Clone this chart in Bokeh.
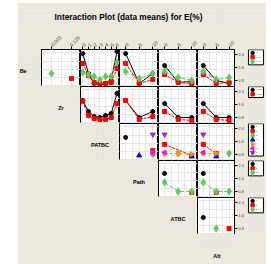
import math
from bokeh.plotting import figure
from bokeh.models import (Range1d, LinearAxis, FixedTicker, Label, Spacer,
                          ColumnDataSource, Row, Column)
from bokeh.core.properties import value
from bokeh.embed import file_html
from bokeh.resources import INLINE

# ---------------- data ----------------
TITLE = "Interaction Plot (data means) for E(%)"
ROW_FACTORS = ["Be", "Zr", "PATBC", "Path", "ATBC"]
COL_FACTORS = ["Zr", "PATBC", "Path", "ATBC", "Alt"]
BOTTOM_FACTOR = "Alt"

BE_LEVELS = ["0", "0.05", "0.10"]
ZR_LEVELS = ["0.003", "0.125"]
PATBC_LEVELS = ["0", "1", "2", "3", "4", "5", "6"]
PATH_LEVELS = ["0", "5", "10"]
ATBC_LEVELS = ["0", "5", "10"]
ALT_LEVELS = ["0", "5", "10"]

Y_TICKS = [0.8, 1.6, 2.4]

N = None
# rows: levels of the row factor; entries: levels of the column factor
BE_ZR = [[N, N], [N, 0.92], [1.23, N]]
BE_PATBC = [[2.46, 1.23, 0.62, 0.55, 0.62, 0.80, 2.58],
            [1.85, 1.10, 0.68, 0.62, 0.62, 0.68, 1.54],
            [1.29, 1.17, 1.05, 0.86, 1.05, 1.05, 1.91]]
BE_PATH = [[2.46, 0.62, 1.23], [1.85, 0.62, 0.86], [1.35, 0.92, 1.23]]
BE_ATBC = [[1.72, 0.68, 0.74], [1.17, 0.68, 0.62], [1.35, 0.98, 0.80]]
BE_ALT = [[1.72, 0.80, 0.62], [1.17, 0.62, 0.68], [1.35, 0.86, 0.98]]

ZR_PATBC = [[1.85, 1.17, 0.86, 0.80, 0.92, 1.05, 2.28],
            [1.80, 0.92, 0.74, 0.68, 0.68, 0.80, 1.66]]
ZR_PATH = [[1.85, 0.80, 1.17], [1.85, 0.68, 0.86]]
ZR_ATBC = [[1.66, 0.80, 0.80], [1.17, 0.68, 0.62]]
ZR_ALT = [[1.66, 0.80, 0.80], [1.17, 0.68, 0.62]]

PATBC_PATH = [[1.85, N, N], [N, N, 1.05], [N, N, 0.82], [N, 0.74, N],
              [N, N, 0.86], [N, N, 0.88], [N, N, 2.03]]
PATBC_ATBC = [[N, N, N], [1.42, N, 0.74], [N, 0.86, N], [N, N, 0.68],
              [0.86, 0.86, 0.82], [0.92, N, N], [2.03, N, N]]
PATBC_ALT = [[N, N, N], [1.42, 0.86, N], [N, N, 0.86], [N, 0.68, N],
             [0.86, 0.86, N], [0.92, N, N], [2.03, N, N]]

PATH_ATBC = [[1.91, N, N], [N, N, 0.74], [1.35, 0.80, 0.80]]
PATH_ALT = [[1.91, N, N], [N, 0.74, N], [1.35, 0.80, 0.80]]

ATBC_ALT = [[1.48, N, N], [N, N, 0.80], [N, 0.80, N]]

LEVELS = {"Be": BE_LEVELS, "Zr": ZR_LEVELS, "PATBC": PATBC_LEVELS,
          "Path": PATH_LEVELS, "ATBC": ATBC_LEVELS, "Alt": ALT_LEVELS}
DATA = {(0, 0): BE_ZR, (0, 1): BE_PATBC, (0, 2): BE_PATH, (0, 3): BE_ATBC, (0, 4): BE_ALT,
        (1, 1): ZR_PATBC, (1, 2): ZR_PATH, (1, 3): ZR_ATBC, (1, 4): ZR_ALT,
        (2, 2): PATBC_PATH, (2, 3): PATBC_ATBC, (2, 4): PATBC_ALT,
        (3, 3): PATH_ATBC, (3, 4): PATH_ALT,
        (4, 4): ATBC_ALT}

# ---------------- style ----------------
BEIGE = "#ECE8DC"
COLORS = ["black", "#FF0000", "#5EC95E", "#0000FF", "#FF8C00", "#FF00FF", "#8A2BE2"]
MARKERS = [("circle", 0, 4), ("square", 0, 4), ("diamond", 0, 7), ("triangle", 0, 5),
           ("triangle", -math.pi / 2, 5), ("triangle", math.pi / 2, 5),
           ("inverted_triangle", 0, 5)]
DASHES = ["solid", "3 1", "4 2", "1 1", "3 2", "2 1", "5 2"]
CW, RH, TH, LW = 39, 37, 22, 23
AXW, LGW = 11, 19          # right axis band, legend band
TITLE_H, BOTTOM_H = 24, 30
XR = {2: (0.5, 2.45), 7: (0.6, 7.45), 3: (0.55, 3.42)}
YR = (0.43, 2.71)
LG_ROW_PX = 4.3            # legend entry pitch in pixels
LG_TOP = 0.81              # first entry centre, in entries from frame top


def bare_fig(w, h, top=0, right=0, bg=BEIGE, outline=None, xr=(0, 1), yr=(0, 1)):
    return figure(width=w, height=h, x_range=Range1d(*xr), y_range=Range1d(*yr),
                  output_backend="svg", toolbar_location=None,
                  x_axis_location=None, y_axis_location=None,
                  min_border=0, min_border_left=0, min_border_bottom=0,
                  min_border_right=right, min_border_top=top,
                  background_fill_color=bg, border_fill_color=BEIGE,
                  outline_line_color=outline, outline_line_width=1)


def add_series(p, i, xs, ys, with_line=True, shrink=1.0):
    src = ColumnDataSource(dict(x=xs, y=ys))
    if with_line and len(xs) > 1:
        p.line("x", "y", source=src, line_color=COLORS[i], line_dash=DASHES[i], line_width=1)
    m, ang, sz = MARKERS[i]
    return p.scatter("x", "y", source=src, marker=m, angle=ang, size=sz * shrink,
                     fill_color=COLORS[i], line_color=COLORS[i])


def panel(r, c):
    top = r == 0
    right = c == 4
    nx = len(LEVELS[COL_FACTORS[c]])
    p = bare_fig(CW + (AXW if right else 0), RH + (TH if top else 0),
                 top=TH if top else 0, right=AXW if right else 0,
                 bg="white", outline="black", xr=XR[nx], yr=YR)
    for i, vals in enumerate(DATA[(r, c)]):
        xs = [k + 1 for k, v in enumerate(vals) if v is not None]
        ys = [v for v in vals if v is not None]
        add_series(p, i, xs, ys)
    if top:
        labs = LEVELS[COL_FACTORS[c]]
        ax = LinearAxis(ticker=FixedTicker(ticks=list(range(1, nx + 1))),
                        major_label_overrides={k + 1: s for k, s in enumerate(labs)},
                        major_label_orientation=math.pi / 4,
                        major_label_text_font_size="5px", major_label_standoff=1,
                        major_label_text_color="#444444",
                        major_tick_in=0, major_tick_out=3,
                        minor_tick_in=0, minor_tick_out=0,
                        axis_line_color="black", major_tick_line_color="black")
        p.add_layout(ax, "above")
    if right:
        ay = LinearAxis(ticker=FixedTicker(ticks=Y_TICKS),
                        major_label_text_font_size="4px", major_label_standoff=1,
                        major_tick_in=0, major_tick_out=3,
                        minor_tick_in=0, minor_tick_out=0,
                        axis_line_color="black")
        p.add_layout(ay, "right")
    return p


def legend_cell(r):
    """Key of the row factor's levels, drawn on its own small scale (one unit per level)."""
    top = r == 0
    span = RH / LG_ROW_PX
    p = bare_fig(LGW, RH + (TH if top else 0), top=TH if top else 0,
                 yr=(span - LG_TOP, -LG_TOP))
    labs = LEVELS[ROW_FACTORS[r]]
    n = len(labs)
    p.quad(left=[0.05], right=[0.84], top=[-LG_TOP + 0.05], bottom=[n - 1 + LG_TOP - 0.05],
           fill_color="white", line_color="black", line_width=1)
    for i in range(n):
        add_series(p, i, [0.27], [i], with_line=False, shrink=0.85)
    p.text(x=[0.45] * n, y=list(range(n)), text=labs, text_font_size="2.5px",
           text_baseline="middle", text_align="left", text_color="#555555",
           text_font=value("Liberation Sans"))
    return p


def label_cell(text, w, h, top=0, x=0.5, align="center", y=0.42):
    p = bare_fig(w, h, top=top)
    p.add_layout(Label(x=x, y=y, text=text, text_align=align, text_baseline="middle",
                       text_font_size="5.5px", text_font_style="bold",
                       text_font="Liberation Sans", text_color="black"))
    return p


BG = {"background-color": BEIGE}
TOTAL_W = LW + 5 * CW + AXW + LGW

title_fig = bare_fig(TOTAL_W, TITLE_H)
title_fig.add_layout(Label(x=110, x_units="screen", y=0.42, text=TITLE, text_align="center",
                           text_baseline="middle", text_font_size="8.3px", text_font_style="bold",
                           text_font="Liberation Sans", text_color="black"))

rows = [title_fig]
r0 = [label_cell(ROW_FACTORS[0], LW, RH + TH, top=TH, x=0.05, align="left")]
r0 += [panel(0, c) for c in range(5)]
r0.append(legend_cell(0))
rows.append(Row(children=r0, spacing=0))
for r in range(1, 5):
    kids = [Spacer(width=LW + (r - 1) * CW, height=RH, styles=BG),
            label_cell(ROW_FACTORS[r], CW, RH)]
    kids += [panel(r, c) for c in range(r, 5)]
    kids.append(legend_cell(r))
    rows.append(Row(children=kids, spacing=0))
rows.append(Row(children=[Spacer(width=LW + 4 * CW, height=BOTTOM_H, styles=BG),
                          label_cell(BOTTOM_FACTOR, CW, BOTTOM_H, y=0.3),
                          Spacer(width=AXW + LGW, height=BOTTOM_H, styles=BG)], spacing=0))

main = Column(children=rows, spacing=0, styles=BG)
main_h = TITLE_H + TH + 5 * RH + BOTTOM_H
page = Column(children=[Spacer(width=18 + TOTAL_W, height=3),
                        Row(children=[Spacer(width=18, height=main_h), main], spacing=0)],
              spacing=0)

open("out.html", "w").write(file_html(page, INLINE))
